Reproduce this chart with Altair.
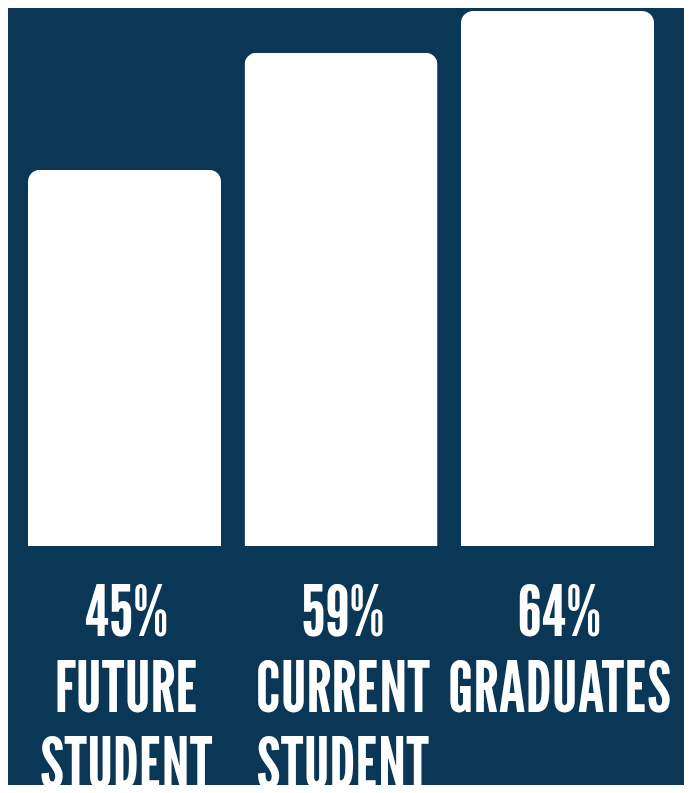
import altair as alt
import pandas as pd

categories = ["FUTURE STUDENT", "CURRENT STUDENT", "GRADUATES"]
values = [45, 59, 64]
labels = [["45%", "FUTURE", "STUDENT"], ["59%", "CURRENT", "STUDENT"], ["64%", "GRADUATES"]]

df = pd.DataFrame({"cat": categories, "value": values, "label": labels})

BG = "#0b3756"

x = alt.X("cat:N", sort=categories, axis=None,
          scale=alt.Scale(range=[20, 646], paddingInner=0.1085, paddingOuter=0))

bars = alt.Chart(df).mark_bar(color="white", cornerRadiusTopLeft=12, cornerRadiusTopRight=12).encode(
    x=x,
    y=alt.Y("value:Q", axis=None, scale=alt.Scale(domain=[0, 64.36], nice=False, zero=True)),
)

text = alt.Chart(df).mark_text(
    font="League Gothic", fontSize=70, color="white", align="center", baseline="alphabetic",
    lineHeight=76, dx=2,
).encode(
    x=x,
    y=alt.value(628),
    text="label",
)

chart = alt.layer(bars, text).properties(
    width=676, height=538, background=BG,
    padding={"left": 0, "top": 0, "right": 0, "bottom": 239},
    autosize=alt.AutoSizeParams(type="none"),
).configure_view(stroke=None)

chart.save("out.html", embed_options={"renderer": "svg", "actions": False})
